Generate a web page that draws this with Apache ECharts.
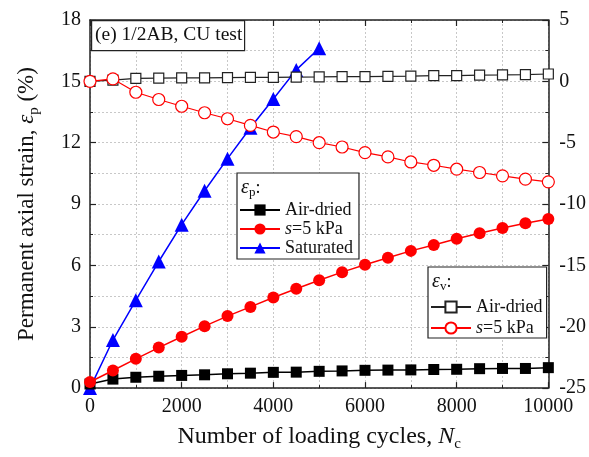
<!DOCTYPE html>
<html>
<head>
<meta charset="utf-8">
<script src="https://cdn.jsdelivr.net/npm/echarts@6/dist/echarts.min.js"></script>
<style>
html,body{margin:0;padding:0;background:#fff;}
#chart{width:589px;height:457px;}
</style>
</head>
<body>
<div id="chart"></div>
<script>
// ---- data ----
const cycles = [0,500,1000,1500,2000,2500,3000,3500,4000,4500,5000,5500,6000,6500,7000,7500,8000,8500,9000,9500,10000];
const cyclesSat = [0,500,1000,1500,2000,2500,3000,3500,4000,4500,5000];
const epAirDried = [0.2,0.44,0.53,0.58,0.62,0.65,0.70,0.73,0.77,0.78,0.82,0.84,0.87,0.88,0.89,0.91,0.92,0.95,0.96,0.96,1.0];
const epS5 = [0.3,0.86,1.43,1.98,2.51,3.03,3.52,3.97,4.43,4.86,5.27,5.67,6.03,6.37,6.71,7.0,7.3,7.57,7.83,8.06,8.27];
const epSaturated = [0,2.35,4.29,6.19,7.99,9.65,11.22,12.73,14.14,15.56,16.62];
const evAirDried = [0,0.1,0.25,0.27,0.28,0.29,0.31,0.32,0.33,0.35,0.36,0.38,0.38,0.41,0.42,0.46,0.47,0.51,0.52,0.55,0.6];
const evS5 = [0,0.2,-0.89,-1.48,-2.03,-2.56,-3.05,-3.59,-4.13,-4.5,-5.0,-5.35,-5.81,-6.16,-6.57,-6.84,-7.16,-7.43,-7.7,-7.97,-8.19];
const leftTicks = {min:0, max:18, interval:3};
const rightTicks = {min:-25, max:5, interval:5};
const xTicks = {min:0, max:10000, interval:2000};

const FONT = '"Liberation Serif", "Times New Roman", serif';
const pair = (xs, ys) => xs.map((x,i)=>[x, ys[i]]);

const chart = echarts.init(document.getElementById('chart'), null, {renderer:'canvas'});

const gridLine = {show:true, lineStyle:{color:'#c8c8c8', type:[2,2], width:1}};
const axisLineS = {show:true, onZero:false, lineStyle:{color:'#222', width:1.5}};
const plain = v => String(v);

const option = {
  backgroundColor:'#fff',
  animation:false,
  grid:{left:90, right:31, top:20, bottom:67, containLabel:false},
  xAxis:[{
    type:'value', position:'bottom', min:xTicks.min, max:xTicks.max, interval:xTicks.interval,
    axisLine:axisLineS,
    axisTick:{show:true, inside:true, length:6, lineStyle:{color:'#222', width:1.2}},
    minorTick:{show:true, splitNumber:2, length:3, lineStyle:{color:'#222', width:1}},
    splitLine:gridLine,
    minorSplitLine:gridLine,
    axisLabel:{color:'#111', fontFamily:FONT, fontSize:20, margin:9, formatter:plain},
    name:'Number of loading cycles, {it|N}{sub|c}',
    nameLocation:'middle', nameGap:33,
    nameTextStyle:{color:'#111', fontFamily:FONT, fontSize:24, lineHeight:30,
      rich:{it:{fontFamily:FONT, fontStyle:'italic', fontSize:24, color:'#111', lineHeight:30},
            sub:{fontFamily:FONT, fontSize:15, color:'#111', lineHeight:15, verticalAlign:'bottom'}}}
  },{
    type:'value', position:'top', min:xTicks.min, max:xTicks.max, interval:xTicks.interval,
    axisLine:axisLineS,
    axisTick:{show:true, inside:true, length:6, lineStyle:{color:'#222', width:1.2}},
    minorTick:{show:true, splitNumber:2, length:3, lineStyle:{color:'#222', width:1}},
    splitLine:{show:false}, axisLabel:{show:false}
  }],
  yAxis:[{
    type:'value', position:'left', min:leftTicks.min, max:leftTicks.max, interval:leftTicks.interval,
    axisLine:axisLineS,
    axisTick:{show:true, inside:true, length:6, lineStyle:{color:'#222', width:1.2}},
    minorTick:{show:true, splitNumber:2, length:3, lineStyle:{color:'#222', width:1}},
    splitLine:gridLine,
    minorSplitLine:gridLine,
    axisLabel:{color:'#111', fontFamily:FONT, fontSize:20, margin:9, formatter:plain},
    name:'Permanent axial strain, {it|ε}{sub|p} (%)',
    nameLocation:'middle', nameGap:48, nameRotate:90,
    nameTextStyle:{color:'#111', fontFamily:FONT, fontSize:23, lineHeight:30,
      rich:{it:{fontFamily:FONT, fontStyle:'italic', fontSize:23, color:'#111', lineHeight:30},
            sub:{fontFamily:FONT, fontSize:15, color:'#111', lineHeight:15, verticalAlign:'bottom'}}}
  },{
    type:'value', position:'right', min:rightTicks.min, max:rightTicks.max, interval:rightTicks.interval,
    axisLine:axisLineS,
    axisTick:{show:true, inside:true, length:6, lineStyle:{color:'#222', width:1.2}},
    minorTick:{show:true, splitNumber:2, length:3, lineStyle:{color:'#222', width:1}},
    splitLine:{show:false},
    axisLabel:{color:'#111', fontFamily:FONT, fontSize:20, margin:11, formatter:plain}
  }],
  legend:[{
    data:['Air-dried','s=5 kPa','Saturated'],
    orient:'vertical', left:237, top:173,
    padding:[28,6,2,2], itemGap:1, itemWidth:40, itemHeight:14,
    borderColor:'#222', borderWidth:1.2, backgroundColor:'#fff',
    textStyle:{color:'#111', fontFamily:FONT, fontSize:18, lineHeight:18,
      rich:{it:{fontFamily:FONT, fontStyle:'italic', fontSize:18, color:'#111'}}},
    formatter:n => n === 's=5 kPa' ? '{it|s}=5 kPa' : n,
    selectedMode:false
  },{
    data:['Air-dried ','s=5 kPa '],
    orient:'vertical', left:428, top:267,
    padding:[31,4,1,2], itemGap:3, itemWidth:40, itemHeight:14,
    borderColor:'#222', borderWidth:1.2, backgroundColor:'#fff',
    textStyle:{color:'#111', fontFamily:FONT, fontSize:18, lineHeight:18,
      rich:{it:{fontFamily:FONT, fontStyle:'italic', fontSize:18, color:'#111'}}},
    formatter:n => n.trim() === 's=5 kPa' ? '{it|s}=5 kPa' : n.trim(),
    selectedMode:false
  }],
  graphic:[
    {type:'rect', left:91, top:20, z:100, shape:{width:153, height:30},
     style:{fill:'#fff', stroke:'#222', lineWidth:1.2}},
    {type:'text', left:95, top:25, z:101,
     style:{text:'(e) 1/2AB, CU test', fill:'#111', font:'19.5px "Liberation Serif"'}},
    {type:'text', left:241, top:178, z:101,
     style:{text:'{it|ε}{sub|p}:', fill:'#111', font:'18px "Liberation Serif"',
       rich:{it:{font:'italic 20px "Liberation Serif"', fill:'#111', lineHeight:22},
             sub:{font:'13px "Liberation Serif"', fill:'#111', lineHeight:12, verticalAlign:'bottom'}}}},
    {type:'text', left:432, top:272, z:101,
     style:{text:'{it|ε}{sub|v}:', fill:'#111', font:'18px "Liberation Serif"',
       rich:{it:{font:'italic 20px "Liberation Serif"', fill:'#111', lineHeight:22},
             sub:{font:'13px "Liberation Serif"', fill:'#111', lineHeight:12, verticalAlign:'bottom'}}}}
  ],
  series:[
    {name:'Saturated', type:'line', xAxisIndex:0, yAxisIndex:0, data:pair(cyclesSat, epSaturated),
     symbol:'triangle', symbolSize:14, lineStyle:{color:'#0000ff', width:1.5},
     itemStyle:{color:'#0000ff'}, z:2},
    {name:'Air-dried', type:'line', xAxisIndex:0, yAxisIndex:0, data:pair(cycles, epAirDried),
     symbol:'rect', symbolSize:11, lineStyle:{color:'#000', width:1.5},
     itemStyle:{color:'#000'}, z:3},
    {name:'s=5 kPa', type:'line', xAxisIndex:0, yAxisIndex:0, data:pair(cycles, epS5),
     symbol:'circle', symbolSize:12, lineStyle:{color:'#ff0000', width:1.5},
     itemStyle:{color:'#ff0000'}, z:4},
    {name:'Air-dried ', type:'line', xAxisIndex:0, yAxisIndex:1, data:pair(cycles, evAirDried),
     symbol:'rect', symbolSize:10, lineStyle:{color:'#222', width:1.2},
     itemStyle:{color:'#fff', borderColor:'#222', borderWidth:1.2}, z:5},
    {name:'s=5 kPa ', type:'line', xAxisIndex:0, yAxisIndex:1, data:pair(cycles, evS5),
     symbol:'circle', symbolSize:12, lineStyle:{color:'#ff0000', width:1.2},
     itemStyle:{color:'#fff', borderColor:'#ff0000', borderWidth:1.2}, z:6}
  ]
};
option.series.forEach(s => { s.showAllSymbol = true; s.emphasis = {disabled:true}; });
chart.setOption(option);
</script>
</body>
</html>
